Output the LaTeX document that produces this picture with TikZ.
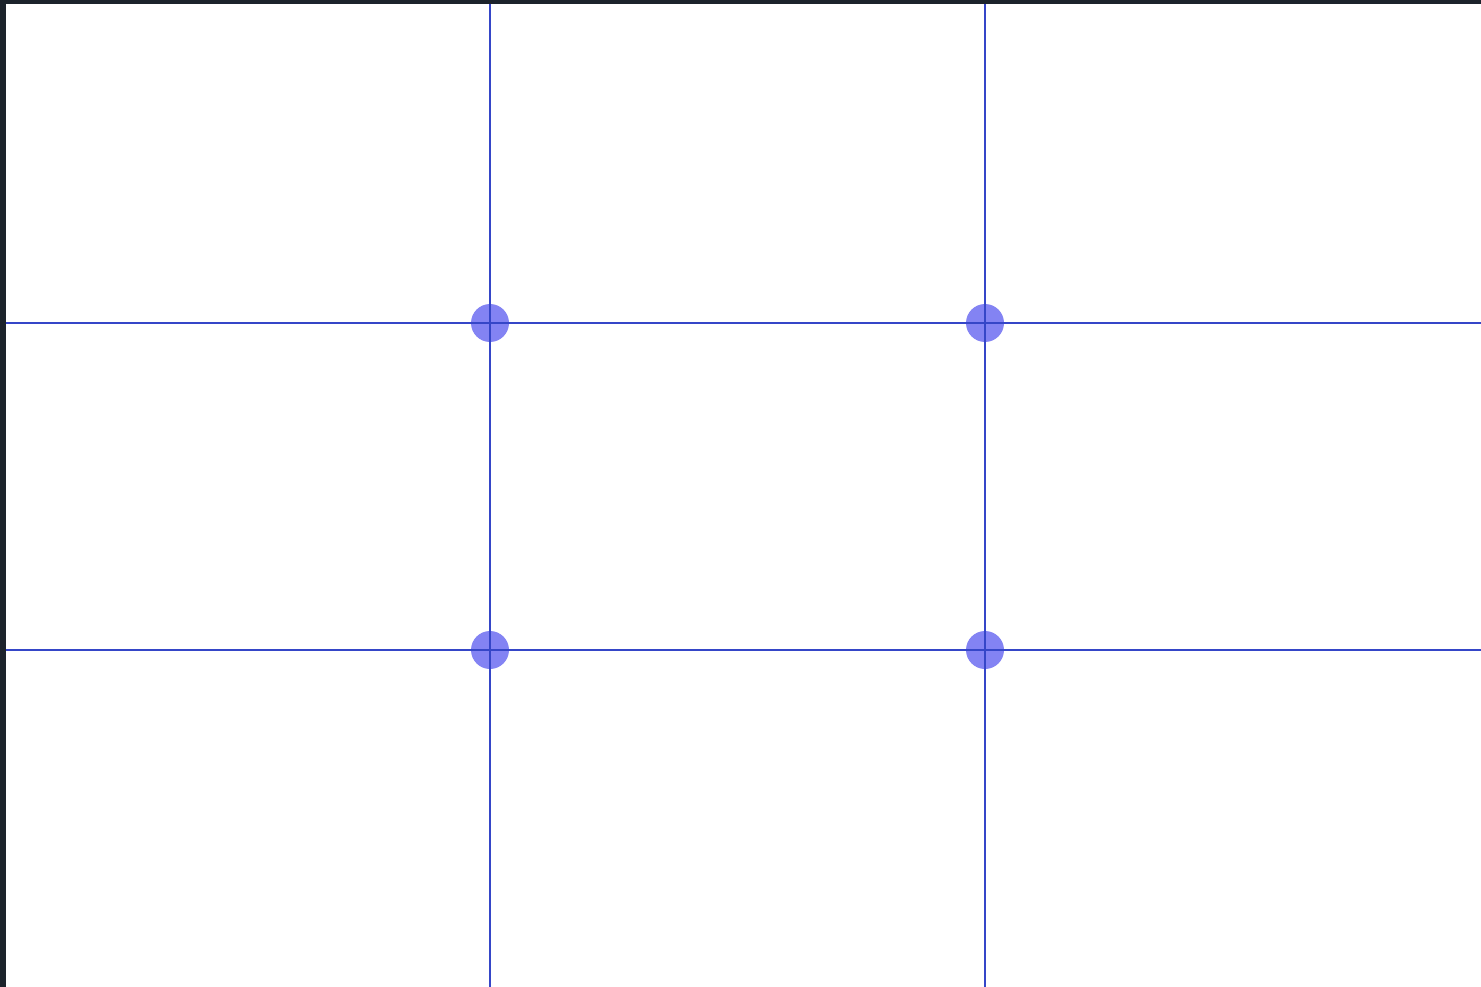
\documentclass[tikz,border=0pt]{standalone}
\definecolor{frame}{HTML}{1C232B}
\definecolor{gridblue}{HTML}{3546C8}
\definecolor{dotblue}{HTML}{5A5AF0}
\tikzset{
  gridline/.style={draw=gridblue, line width=2.8pt},
  dotmark/.style={circle, fill=dotblue, fill opacity=0.75, minimum size=38pt, inner sep=0pt}
}
\begin{document}
\begin{tikzpicture}[x=1pt,y=-1pt]
\useasboundingbox (0,0) rectangle (1481,987);
\fill[frame] (0,0) rectangle (1481,987);
\fill[white] (6,4) rectangle (1481,987);
% dots
\node[dotmark] (d11) at (490,323) {};
\node[dotmark] (d12) at (985,323) {};
\node[dotmark] (d21) at (490,650) {};
\node[dotmark] (d22) at (985,650) {};
% edge coordinates
\coordinate (t1) at (490,4);
\coordinate (b1) at (490,987);
\coordinate (t2) at (985,4);
\coordinate (b2) at (985,987);
\coordinate (l1) at (6,323);
\coordinate (r1) at (1481,323);
\coordinate (l2) at (6,650);
\coordinate (r2) at (1481,650);
\draw[gridline] (t1) -- (b1);
\draw[gridline] (t2) -- (b2);
\draw[gridline] (l1) -- (r1);
\draw[gridline] (l2) -- (r2);
\end{tikzpicture}
\end{document}
